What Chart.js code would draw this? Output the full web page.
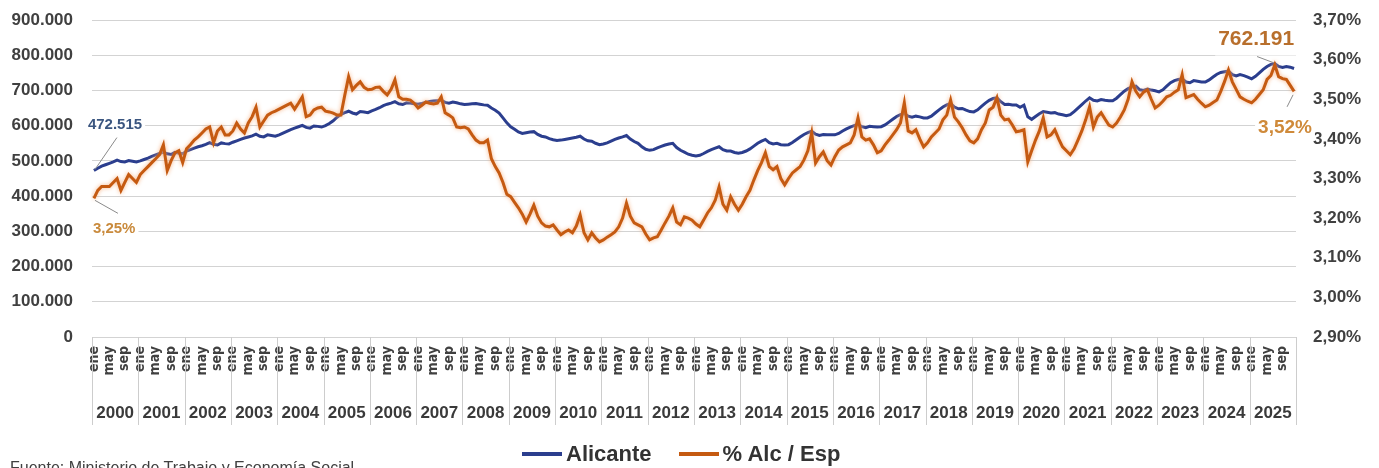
<!DOCTYPE html>
<html lang="es">
<head>
<meta charset="utf-8">
<title>Afiliados Alicante y cuota sobre España</title>
<script src="https://cdn.jsdelivr.net/npm/chart.js@4.4.1/dist/chart.umd.min.js"></script>
<style>
  html, body { margin: 0; padding: 0; background: #fff; overflow: hidden; }
  #wrap { position: relative; width: 1379px; height: 468px; overflow: hidden; }
  #wrap canvas { position: absolute; left: 0; top: 0; }
  .leyenda { position: absolute; left: 522px; top: 441px; display: flex; align-items: center;
             font: bold 22px "Liberation Sans", Arial, sans-serif; color: #333; white-space: nowrap; }
  .leyenda .item { display: flex; align-items: center; }
  .leyenda .sw { width: 40px; height: 4px; margin-right: 4px; }
  .fuente { position: absolute; left: 10px; top: 460px; font: 16px/16px "Liberation Sans", Arial, sans-serif;
            color: #404040; white-space: nowrap; }
</style>
</head>
<body>
<div id="wrap">
  <canvas id="grafico" width="1379" height="468"></canvas>
  <div class="leyenda">
    <div class="item"><span class="sw" style="background:#2B3E8E"></span>Alicante</div>
    <div class="item" style="margin-left:27px"><span class="sw" style="background:#C55A11"></span>% Alc / Esp</div>
  </div>
  <div class="fuente">Fuente: Ministerio de Trabajo y Economía Social</div>
</div>

<script>
/* =============================================
   DATOS
   ============================================= */
const anios = ['2000', '2001', '2002', '2003', '2004', '2005', '2006', '2007', '2008', '2009',
  '2010', '2011', '2012', '2013', '2014', '2015', '2016', '2017', '2018', '2019',
  '2020', '2021', '2022', '2023', '2024', '2025'];
const meses = ['ene', 'feb', 'mar', 'abr', 'may', 'jun', 'jul', 'ago', 'sep', 'oct', 'nov', 'dic'];
const mesesVisibles = ['ene', 'may', 'sep'];

// Afiliados Alicante (miles), ene 2000 - dic 2025
const afiliadosMiles = [
  472.515, 479, 485, 489, 493, 497, 502, 498, 497, 501, 499, 497,
  500, 504, 508, 513, 517, 521, 525, 520, 518, 524, 522, 520,
  528, 532, 536, 540, 543, 547, 552, 547, 545, 551, 549, 548,
  553, 557, 561, 565, 568, 571, 576, 570, 568, 574, 572, 570,
  574, 579, 584, 589, 593, 597, 601, 595, 593, 599, 598, 596,
  600, 606, 614, 624, 632, 637, 641, 636, 633, 640, 639, 637,
  642, 646, 651, 657, 661, 664, 668, 662, 660, 665, 664, 662,
  661, 663, 666, 669, 670, 671, 672, 666, 664, 667, 665, 662,
  660, 661, 662, 663, 661, 659, 658, 650, 644, 636, 622, 608,
  597, 590, 582, 578, 580, 582, 583, 575, 570, 568, 563, 560,
  558, 559, 561, 563, 565, 567, 570, 562, 557, 556, 550, 546,
  548, 551, 556, 561, 565, 568, 572, 562, 555, 550, 540, 533,
  530, 532, 537, 541, 545, 548, 550, 538, 530, 525, 519, 516,
  514, 516, 521, 527, 532, 536, 540, 532, 528, 528, 524, 522,
  524, 528, 534, 542, 550, 556, 561, 552, 548, 550, 546, 545,
  546, 552, 560, 568, 575, 580, 584, 576, 572, 575, 574, 574,
  574, 578, 585, 591, 596, 600, 604, 597, 594, 598, 597, 596,
  597, 602, 610, 618, 626, 631, 635, 627, 624, 627, 625, 622,
  622, 627, 636, 645, 653, 659, 663, 653, 648, 649, 644, 640,
  639, 645, 655, 664, 672, 677, 679, 668, 660, 661, 659, 659,
  652, 658, 625, 618, 626, 634, 640, 638, 636, 637, 633, 631,
  628, 631, 640, 650, 660, 670, 679, 672, 670, 674, 672, 671,
  671, 678, 688, 698, 705, 710, 712, 702, 700, 704, 701, 699,
  696, 702, 712, 722, 728, 731, 733, 724, 722, 728, 726, 724,
  724, 730, 738, 746, 751, 753, 755, 745, 741, 745, 742, 738,
  733, 740, 750, 760, 768, 774, 776, 768, 765, 768, 766, 762.191
];

// % Alicante sobre España
const cuotaPct = [
  3.25, 3.27, 3.28, 3.28, 3.28, 3.29, 3.30, 3.27, 3.29, 3.31, 3.30, 3.29,
  3.31, 3.32, 3.33, 3.34, 3.35, 3.36, 3.385, 3.32, 3.345, 3.365, 3.37, 3.34,
  3.375, 3.385, 3.397, 3.405, 3.415, 3.425, 3.43, 3.39, 3.42, 3.43, 3.41, 3.41,
  3.42, 3.44, 3.425, 3.415, 3.44, 3.456, 3.48, 3.43, 3.445, 3.46, 3.466, 3.47,
  3.475, 3.48, 3.485, 3.49, 3.475, 3.49, 3.506, 3.456, 3.46, 3.473, 3.478, 3.48,
  3.47, 3.468, 3.465, 3.46, 3.46, 3.51, 3.557, 3.524, 3.535, 3.544, 3.53, 3.524,
  3.525, 3.53, 3.531, 3.52, 3.511, 3.525, 3.549, 3.506, 3.50, 3.50, 3.498, 3.49,
  3.478, 3.485, 3.493, 3.49, 3.488, 3.49, 3.506, 3.466, 3.46, 3.453, 3.43, 3.428,
  3.43, 3.425, 3.41, 3.397, 3.39, 3.39, 3.397, 3.35, 3.33, 3.314, 3.29, 3.26,
  3.254, 3.24, 3.226, 3.21, 3.19, 3.21, 3.233, 3.205, 3.188, 3.18, 3.178, 3.183,
  3.17, 3.158, 3.165, 3.17, 3.163, 3.18, 3.208, 3.163, 3.145, 3.163, 3.15, 3.14,
  3.145, 3.152, 3.158, 3.165, 3.178, 3.20, 3.238, 3.205, 3.188, 3.183, 3.178, 3.16,
  3.145, 3.15, 3.153, 3.17, 3.188, 3.205, 3.226, 3.19, 3.183, 3.203, 3.20, 3.195,
  3.185, 3.178, 3.195, 3.213, 3.226, 3.245, 3.279, 3.235, 3.22, 3.254, 3.235, 3.22,
  3.235, 3.254, 3.27, 3.296, 3.32, 3.34, 3.365, 3.33, 3.322, 3.33, 3.30, 3.284,
  3.30, 3.314, 3.322, 3.33, 3.347, 3.37, 3.415, 3.339, 3.355, 3.367, 3.345, 3.334,
  3.355, 3.372, 3.38, 3.385, 3.39, 3.41, 3.453, 3.405, 3.397, 3.40, 3.385, 3.365,
  3.37, 3.385, 3.397, 3.41, 3.423, 3.44, 3.491, 3.42, 3.415, 3.423, 3.40, 3.38,
  3.39, 3.405, 3.415, 3.425, 3.448, 3.46, 3.498, 3.455, 3.443, 3.428, 3.41, 3.395,
  3.39, 3.40, 3.423, 3.44, 3.473, 3.48, 3.504, 3.46, 3.448, 3.45, 3.435, 3.418,
  3.42, 3.423, 3.342, 3.37, 3.397, 3.42, 3.453, 3.405, 3.41, 3.423, 3.40, 3.38,
  3.37, 3.36, 3.375, 3.397, 3.42, 3.448, 3.481, 3.43, 3.455, 3.466, 3.45, 3.435,
  3.43, 3.44, 3.455, 3.473, 3.50, 3.544, 3.52, 3.506, 3.518, 3.524, 3.50, 3.478,
  3.485, 3.495, 3.506, 3.51, 3.518, 3.524, 3.562, 3.504, 3.508, 3.512, 3.50, 3.49,
  3.481, 3.485, 3.492, 3.498, 3.52, 3.545, 3.574, 3.544, 3.525, 3.506, 3.50, 3.495,
  3.491, 3.50, 3.512, 3.524, 3.55, 3.56, 3.587, 3.557, 3.552, 3.55, 3.535, 3.52
];

const etiquetasMes = anios.flatMap(() => meses);

/* =============================================
   FORMATO
   ============================================= */
const FUENTE = '"Liberation Sans", Arial, sans-serif';
const FUENTE_ESTRECHA = '"Liberation Sans Narrow", "DejaVu Sans Condensed", "Liberation Sans", sans-serif';

function formatoMiles(v) {
  return Math.round(v * 1000).toLocaleString('de-DE');
}

function formatoPct(v) {
  return v.toFixed(2).replace('.', ',') + '%';
}

/* =============================================
   PLUGINS
   ============================================= */
// halo claro alrededor de la linea naranja
const haloPlugin = {
  id: 'halo',
  beforeDatasetDraw(chart, args) {
    if (args.index !== 1) return;
    chart.ctx.save();
    chart.ctx.shadowColor = 'rgba(247,175,125,0.95)';
    chart.ctx.shadowBlur = 4;
  },
  afterDatasetDraw(chart, args) {
    if (args.index !== 1) return;
    chart.ctx.restore();
  }
};

// separadores verticales entre años
const separadoresPlugin = {
  id: 'separadores',
  afterDraw(chart) {
    const { ctx, chartArea } = chart;
    const xa = chart.scales.anios;
    const paso = xa.getPixelForValue(1) - xa.getPixelForValue(0);
    const inicio = xa.getPixelForValue(0) - paso / 2;
    ctx.save();
    ctx.strokeStyle = '#cdcdcd';
    ctx.lineWidth = 1;
    for (let k = 0; k <= anios.length; k++) {
      const px = Math.round(inicio + k * paso) + 0.5;
      ctx.beginPath();
      ctx.moveTo(px, chartArea.bottom);
      ctx.lineTo(px, xa.bottom - 2);
      ctx.stroke();
    }
    ctx.restore();
  }
};

function linea(ctx, x1, y1, x2, y2) {
  ctx.strokeStyle = '#8a8a8a';
  ctx.lineWidth = 1;
  ctx.beginPath();
  ctx.moveTo(x1, y1);
  ctx.lineTo(x2, y2);
  ctx.stroke();
}

function etiqueta(ctx, texto, x, y, alinear, color, fuente, alto) {
  ctx.font = fuente;
  const w = ctx.measureText(texto).width;
  const izq = alinear === 'right' ? x - w : x;
  ctx.fillStyle = '#fff';
  ctx.fillRect(izq - 3, y - alto / 2, w + 6, alto);
  ctx.fillStyle = color;
  ctx.textAlign = 'left';
  ctx.textBaseline = 'middle';
  ctx.fillText(texto, izq, y);
}

// etiquetas del primer y ultimo dato
const anotacionesPlugin = {
  id: 'anotaciones',
  afterDatasetsDraw(chart) {
    const { ctx } = chart;
    const { x, y, y2 } = chart.scales;
    const n = afiliadosMiles.length - 1;
    const x0 = x.getPixelForValue(0);
    const xN = x.getPixelForValue(n);
    const az0 = y.getPixelForValue(afiliadosMiles[0]);
    const azN = y.getPixelForValue(afiliadosMiles[n]);
    const na0 = y2.getPixelForValue(cuotaPct[0]);
    const naN = y2.getPixelForValue(cuotaPct[n]);

    ctx.save();
    etiqueta(ctx, formatoMiles(afiliadosMiles[0]), x0 - 6, az0 - 46, 'left', '#3b5680', 'bold 15px ' + FUENTE, 22);
    etiqueta(ctx, formatoPct(cuotaPct[0]), x0 - 1, na0 + 31, 'left', '#c98a3c', 'bold 15px ' + FUENTE, 22);
    etiqueta(ctx, formatoMiles(afiliadosMiles[n]), xN, azN - 29, 'right', '#b86f2c', 'bold 21px ' + FUENTE, 32);
    etiqueta(ctx, formatoPct(cuotaPct[n]), xN - 36, naN + 36.5, 'left', '#cf8a3a', 'bold 19px ' + FUENTE, 26);

    linea(ctx, x0 + 1, az0 - 1, x0 + 23, az0 - 33);
    linea(ctx, x0 + 1, na0 + 2, x0 + 24, na0 + 15);
    linea(ctx, xN - 37, azN - 12, xN - 21, azN - 6);
    linea(ctx, xN - 1, naN + 3.5, xN - 7, naN + 15.5);
    ctx.restore();
  }
};

/* =============================================
   GRAFICO
   ============================================= */
const colorTexto = '#404040';
const sinMarca = 'rgba(0,0,0,0)';

new Chart(document.getElementById('grafico'), {
  type: 'line',
  data: {
    labels: etiquetasMes,
    datasets: [
      {
        label: 'Alicante',
        data: afiliadosMiles,
        yAxisID: 'y',
        borderColor: '#2B3E8E',
        backgroundColor: '#2B3E8E',
        borderWidth: 3,
        pointRadius: 0,
        tension: 0,
        order: 1
      },
      {
        label: '% Alc / Esp',
        data: cuotaPct,
        yAxisID: 'y2',
        borderColor: '#C55A11',
        backgroundColor: '#C55A11',
        borderWidth: 3,
        pointRadius: 0,
        tension: 0,
        order: 0
      }
    ]
  },
  options: {
    responsive: false,
    animation: false,
    layout: { padding: { top: 20, bottom: 41, left: 0, right: 0 } },
    plugins: {
      legend: { display: false },
      tooltip: { enabled: false }
    },
    scales: {
      x: {
        type: 'category',
        position: 'bottom',
        offset: true,
        weight: 0,
        grid: { display: false, drawTicks: false },
        border: { display: false },
        ticks: {
          autoSkip: false,
          minRotation: 90,
          maxRotation: 90,
          padding: 9,
          color: colorTexto,
          font: { family: FUENTE_ESTRECHA, size: 14, weight: 'bold' },
          callback(v, i) {
            const m = etiquetasMes[i];
            return mesesVisibles.includes(m) ? m : '';
          }
        },
        afterFit(s) { s.height = 62; }
      },
      anios: {
        type: 'category',
        labels: anios,
        position: 'bottom',
        offset: true,
        weight: 1,
        grid: { display: false, drawTicks: false },
        border: { display: false },
        ticks: {
          autoSkip: false,
          maxRotation: 0,
          padding: 4,
          color: '#3a3a3a',
          font: { family: FUENTE, size: 17, weight: 'bold' }
        },
        afterFit(s) { s.height = 28; }
      },
      y: {
        position: 'left',
        min: 0,
        max: 900,
        grid: { color: '#d3d3d3', lineWidth: 1, drawTicks: true, tickLength: 19, tickColor: sinMarca },
        border: { display: false },
        ticks: {
          stepSize: 100,
          padding: 0,
          color: colorTexto,
          font: { family: FUENTE, size: 17, weight: 'bold' },
          callback: v => formatoMiles(v)
        },
        afterFit(s) { s.width = 92; }
      },
      y2: {
        position: 'right',
        min: 2.9,
        max: 3.7,
        grid: { drawOnChartArea: false, drawTicks: true, tickLength: 17, tickColor: sinMarca },
        border: { display: false },
        ticks: {
          stepSize: 0.1,
          padding: 0,
          color: colorTexto,
          font: { family: FUENTE, size: 17, weight: 'bold' },
          callback: v => formatoPct(v)
        },
        afterFit(s) { s.width = 83; }
      }
    }
  },
  plugins: [haloPlugin, separadoresPlugin, anotacionesPlugin]
});
</script>
</body>
</html>
